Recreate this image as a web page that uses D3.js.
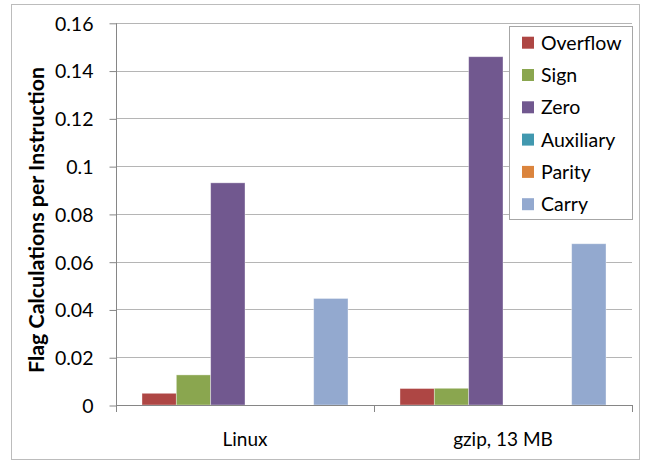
<!DOCTYPE html>
<html>
<head>
<meta charset="utf-8">
<script src="https://cdn.jsdelivr.net/npm/d3@7"></script>
<style>
  html, body { margin: 0; padding: 0; background: #fff; }
  svg { display: block; font-family: Lato, "Open Sans", "Liberation Sans", sans-serif; }
</style>
</head>
<body>
<svg id="chart" width="646" height="462"></svg>
<script>
// Workloads on the x axis
const categories = ["Linux", "gzip, 13 MB"];
// Flag types, one bar each per workload
const flags = ["Overflow", "Sign", "Zero", "Auxiliary", "Parity", "Carry"];
const flagColors = ["#AE4644", "#8AA64F", "#71588F", "#4198AF", "#DB843D", "#93A9CF"];
// Flag calculations per instruction, in flag order
const linuxValues = [0.0049, 0.0126, 0.0930, 0, 0, 0.0446];
const gzipValues  = [0.0069, 0.0070, 0.1458, 0, 0, 0.0675];
const yTicks = [0, 0.02, 0.04, 0.06, 0.08, 0.1, 0.12, 0.14, 0.16];
const yTitle = "Flag Calculations per Instruction";

const seriesByCategory = [linuxValues, gzipValues];

const svg = d3.select("#chart");
const plot = { left: 116, right: 632, top: 22.8, bottom: 405 };
const labelFont = "Lato, 'Open Sans', sans-serif";

// Outer chart frame
svg.append("rect")
  .attr("x", 11.5).attr("y", 4.5)
  .attr("width", 628).attr("height", 455)
  .attr("fill", "#fff").attr("stroke", "#bcbcbc").attr("stroke-width", 1);

const x0 = d3.scaleBand().domain(categories).range([plot.left, plot.right]).paddingInner(0).paddingOuter(0);
const x1 = d3.scaleBand().domain(flags).range([0, x0.bandwidth()]).paddingInner(0).paddingOuter(0.757);
const y = d3.scaleLinear().domain([0, 0.16]).range([plot.bottom, plot.top]);
const color = d3.scaleOrdinal().domain(flags).range(flagColors);

// Horizontal gridlines
svg.append("g")
  .selectAll("line")
  .data(yTicks.filter(t => t > 0))
  .join("line")
  .attr("x1", plot.left).attr("x2", plot.right)
  .attr("y1", d => Math.round(y(d)) + 0.5).attr("y2", d => Math.round(y(d)) + 0.5)
  .attr("stroke", "#b5b5b5").attr("stroke-width", 1);

// Y axis
const yAxis = d3.axisLeft(y)
  .tickValues(yTicks)
  .tickSize(7)
  .tickPadding(16)
  .tickFormat(d => String(+d.toFixed(2)));
const gy = svg.append("g")
  .attr("transform", `translate(${plot.left + 0.5},0.5)`)
  .call(yAxis);
gy.select(".domain").attr("stroke", "#868686").attr("d", `M0,${y(0.16)}V${y(0)}`);
gy.selectAll(".tick line").attr("stroke", "#868686");
gy.selectAll(".tick text")
  .attr("fill", "#000")
  .style("font-size", "19.5px")
  .style("font-family", labelFont)
  .attr("dy", "0.35em");

// Bars
const groups = svg.append("g")
  .selectAll("g")
  .data(categories.map((c, i) => ({ category: c, values: seriesByCategory[i] })))
  .join("g")
  .attr("transform", d => `translate(${x0(d.category)},0)`);

groups.selectAll("rect")
  .data(d => flags.map((f, j) => ({ flag: f, value: d.values[j] })).filter(e => e.value > 0))
  .join("rect")
  .attr("x", d => x1(d.flag))
  .attr("width", x1.bandwidth())
  .attr("y", d => y(d.value))
  .attr("height", d => y(0) - y(d.value))
  .attr("fill", d => color(d.flag))
  .attr("stroke", "rgba(255,255,255,0.45)")
  .attr("stroke-width", 0.8);

// X axis
const xAxis = d3.axisBottom(x0).tickSize(0).tickPadding(27);
const gx = svg.append("g")
  .attr("transform", `translate(0,${plot.bottom + 0.5})`)
  .call(xAxis);
gx.select(".domain").attr("stroke", "#868686").attr("d", `M${plot.left},0H${plot.right}`);
gx.selectAll(".tick text")
  .attr("fill", "#000")
  .style("font-size", "19px")
  .style("font-family", labelFont);
// Category separators below the axis
svg.append("g")
  .selectAll("line")
  .data([plot.left, plot.left + x0.step(), plot.right])
  .join("line")
  .attr("x1", d => Math.round(d) + 0.5).attr("x2", d => Math.round(d) + 0.5)
  .attr("y1", plot.bottom).attr("y2", plot.bottom + 7)
  .attr("stroke", "#868686");

// Y axis title, sized to run along most of the axis height
const title = svg.append("text")
  .attr("transform", "translate(44,220) rotate(-90)")
  .attr("text-anchor", "middle")
  .style("font-size", "20px")
  .style("font-weight", "bold")
  .attr("fill", "#000")
  .text(yTitle);
const titleLen = title.node().getComputedTextLength();
if (titleLen > 0) title.style("font-size", (20 * 306 / titleLen).toFixed(2) + "px");

// Legend
const legend = svg.append("g");
legend.append("rect")
  .attr("x", 509.5).attr("y", 26.5)
  .attr("width", 123).attr("height", 193)
  .attr("fill", "#fff").attr("stroke", "#a6a6a6");
const rows = legend.selectAll("g.item")
  .data(flags)
  .join("g")
  .attr("class", "item")
  .attr("transform", (d, i) => `translate(522,${42.7 + i * 32.3})`);
rows.append("rect")
  .attr("x", 0).attr("y", -6)
  .attr("width", 12).attr("height", 12)
  .attr("fill", d => color(d));
rows.append("text")
  .attr("x", 19).attr("dy", "0.36em")
  .style("font-size", "19.5px")
  .attr("fill", "#000")
  .text(d => d);
</script>
</body>
</html>
